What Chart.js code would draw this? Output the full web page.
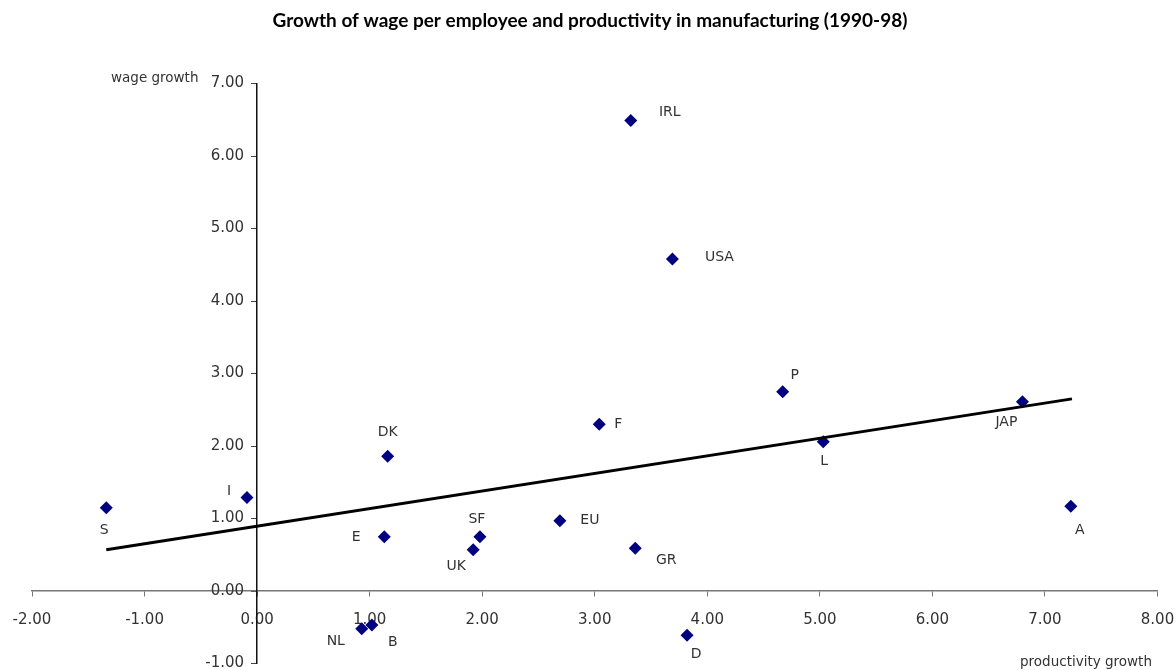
<!DOCTYPE html>
<html>
<head>
<meta charset="utf-8">
<script src="https://cdn.jsdelivr.net/npm/chart.js@4.4.0/dist/chart.umd.min.js"></script>
<style>
  html, body { margin: 0; padding: 0; background: #fff; }
  .graph { width: 1176px; height: 670px; }
</style>
</head>
<body>
<div class="graph"><canvas id="chart"></canvas></div>
<script>
// values
const countries = ["IRL", "USA", "P", "JAP", "L", "A", "F", "DK", "I", "S", "E", "SF", "UK", "EU", "GR", "D", "NL", "B"];
const productivity = [3.32, 3.69, 4.67, 6.80, 5.03, 7.23, 3.04, 1.16, -0.09, -1.34, 1.13, 1.98, 1.92, 2.69, 3.36, 3.82, 0.93, 1.02];
const wages = [6.49, 4.58, 2.75, 2.61, 2.06, 1.17, 2.30, 1.86, 1.29, 1.15, 0.75, 0.75, 0.57, 0.97, 0.59, -0.61, -0.52, -0.47];
const trendX = [-1.34, 7.24];
const trendY = [0.57, 2.65];
const xRange = [-2, 8];
const yRange = [-1, 7];

const title = "Growth of wage per employee and productivity in manufacturing (1990-98)";
const xTitle = "productivity growth";
const yTitle = "wage growth";

// where each country name sits relative to its marker (px)
const labelOffsets = {
  IRL: [39, -8], USA: [47, -2], P: [12, -16], JAP: [-16, 21], L: [1, 20], A: [9, 24],
  F: [19, 0], DK: [0, -24], I: [-18, -6], S: [-2, 23], E: [-28, 1], SF: [-3, -17],
  UK: [-17, 17], EU: [30, 0], GR: [31, 12], D: [9, 19], NL: [-26, 13], B: [21, 17]
};

const points = countries.map((c, i) => ({ x: productivity[i], y: wages[i] }));
const trend = trendX.map((x, i) => ({ x: x, y: trendY[i] }));

const tickFont = { family: "DejaVu Sans", size: 15 };
const textColor = "#333";
const fmt = (v) => v.toFixed(2);

// y ticks on a crossing axis get no padding in chart.js, so they are drawn here
const labels = {
  id: "labels",
  afterDraw(chart) {
    const ctx = chart.ctx;
    const xs = chart.scales.x;
    const ys = chart.scales.y;
    ctx.save();

    ctx.fillStyle = textColor;
    ctx.font = "15px 'DejaVu Sans'";
    ctx.textAlign = "right";
    ctx.textBaseline = "middle";
    const axisX = xs.getPixelForValue(0);
    ys.ticks.forEach((t) => {
      ctx.fillText(fmt(t.value), axisX - 13, ys.getPixelForValue(t.value));
    });

    ctx.fillStyle = "#000";
    ctx.textAlign = "center";
    ctx.font = "bold 19px Lato";
    ctx.fillText(title, 590, 21);

    ctx.fillStyle = textColor;
    ctx.font = "13.5px 'DejaVu Sans'";
    ctx.textAlign = "left";
    ctx.fillText(yTitle, 111, 78);
    ctx.fillText(xTitle, 1020, 662);

    ctx.font = "14px 'DejaVu Sans'";
    ctx.textAlign = "center";
    const meta = chart.getDatasetMeta(1);
    meta.data.forEach((pt, i) => {
      const off = labelOffsets[countries[i]];
      ctx.fillText(countries[i], pt.x + off[0], pt.y + off[1]);
    });
    ctx.restore();
  }
};

const config = {
  data: {
    datasets: [
      {
        type: "line",
        data: trend,
        borderColor: "#000",
        borderWidth: 3,
        pointRadius: 0,
        fill: false
      },
      {
        type: "scatter",
        data: points,
        pointStyle: "rectRot",
        pointRadius: 6.5,
        backgroundColor: "#000080",
        borderWidth: 0
      }
    ]
  },
  options: {
    responsive: true,
    maintainAspectRatio: false,
    animation: false,
    layout: { padding: { left: 32, right: 18.5, top: 83.5, bottom: 6.5 } },
    plugins: {
      legend: { display: false },
      tooltip: { enabled: false }
    },
    scales: {
      x: {
        type: "linear",
        min: xRange[0],
        max: xRange[1],
        position: { y: 0 },
        afterFit: (s) => { s.paddingLeft = 0; s.paddingRight = 0; },
        ticks: {
          stepSize: 1,
          autoSkip: false,
          maxRotation: 0,
          padding: 15,
          color: textColor,
          font: tickFont,
          callback: fmt
        },
        grid: { drawOnChartArea: false, drawTicks: true, tickLength: 5, color: "#777" },
        border: { color: "#777", width: 1.5 }
      },
      y: {
        type: "linear",
        min: yRange[0],
        max: yRange[1],
        position: { x: 0 },
        afterFit: (s) => { s.paddingTop = 0; s.paddingBottom = 0; },
        ticks: {
          stepSize: 1,
          display: false
        },
        grid: { drawOnChartArea: false, drawTicks: true, tickLength: 5, color: "#444" },
        border: { color: "#111", width: 1.5 }
      }
    }
  },
  plugins: [labels]
};

new Chart(document.getElementById("chart"), config);
</script>
</body>
</html>
